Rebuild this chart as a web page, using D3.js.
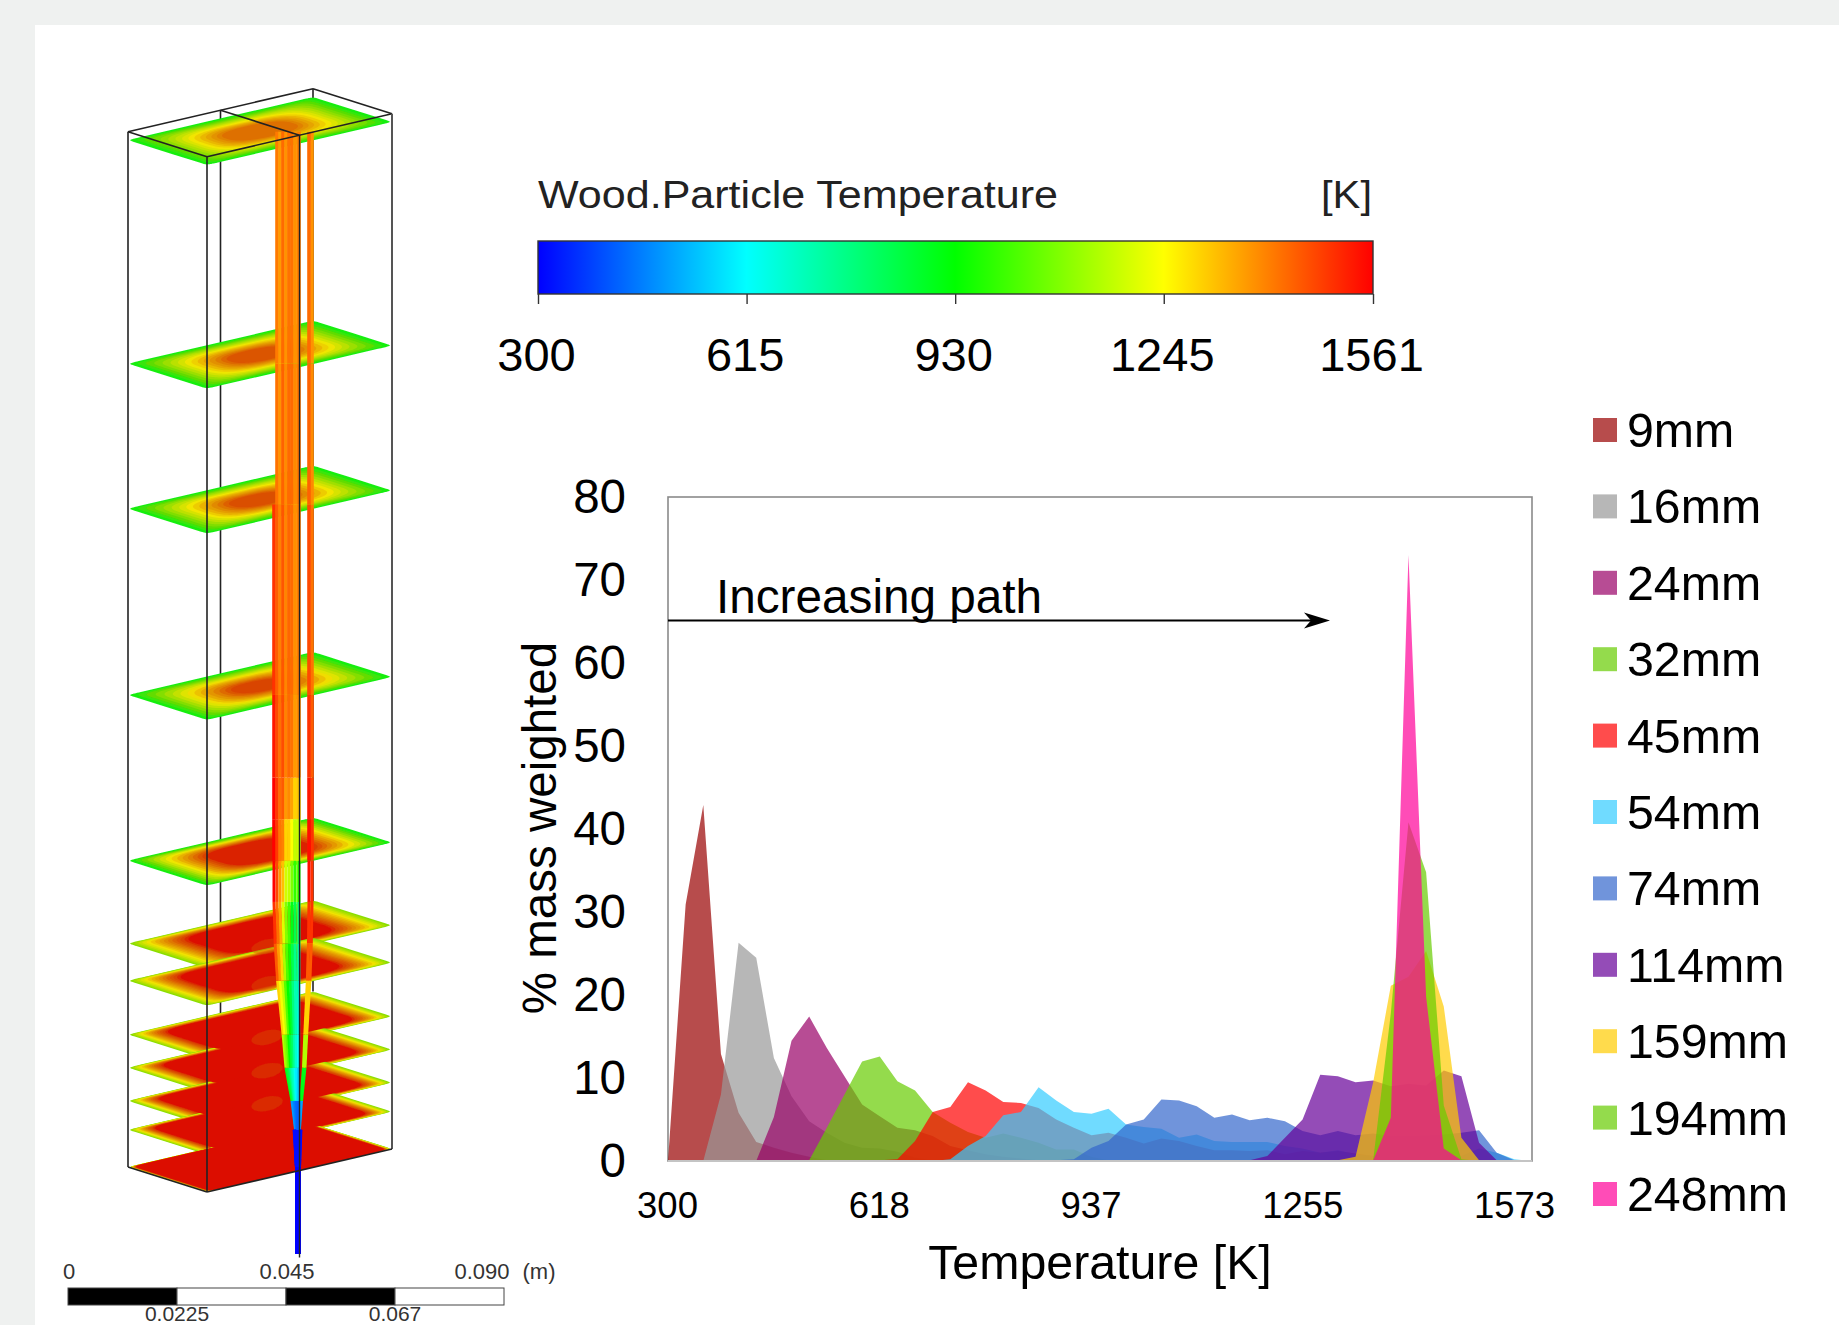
<!DOCTYPE html>
<html>
<head>
<meta charset="utf-8">
<script src="https://cdn.jsdelivr.net/npm/d3@7"></script>
<style>
  html, body { margin: 0; padding: 0; background: #fff; }
  svg { display: block; }
  text { font-family: "Liberation Sans", Arial, sans-serif; fill: #000; }
</style>
</head>
<body>
<div id="chart"></div>
<script>
// histogram bins, one per temperature
const temps = [300, 326, 352, 378, 404, 430, 456, 482, 508, 534, 560, 586, 612, 638, 664, 690, 716, 742, 768, 794, 820, 846, 872, 898, 924,
  949, 975, 1001, 1027, 1053, 1079, 1105, 1131, 1157, 1183, 1209, 1235, 1261, 1287, 1313, 1339, 1365, 1391, 1417, 1443, 1469, 1495, 1521, 1547, 1573];

const s9 = [0, 30.9, 42.9, 12.9, 5.8, 2.3, 1.6, 1.0, 0.5, 0.1, 0, 0, 0, 0, 0, 0, 0, 0, 0, 0, 0, 0, 0, 0, 0,
  0, 0, 0, 0, 0, 0, 0, 0, 0, 0, 0, 0, 0, 0, 0, 0, 0, 0, 0, 0, 0, 0, 0, 0, 0];
const s16 = [0, 0, 0, 8, 26.3, 24.5, 12.4, 7.8, 4.8, 3.4, 2.2, 1.6, 1.5, 1.1, 0.4, 0.1, 0, 0, 0, 0, 0, 0, 0, 0, 0,
  0, 0, 0, 0, 0, 0, 0, 0, 0, 0, 0, 0, 0, 0, 0, 0, 0, 0, 0, 0, 0, 0, 0, 0, 0];
const s24 = [0, 0, 0, 0, 0, 0, 5.3, 14.5, 17.4, 13.6, 10.2, 6.8, 5.4, 4.0, 3.7, 3.0, 1.8, 1.3, 0.8, 0.5, 0.3, 0.1, 0, 0, 0,
  0, 0, 0, 0, 0, 0, 0, 0, 0, 0, 0, 0, 0, 0, 0, 0, 0, 0, 0, 0, 0, 0, 0, 0, 0];
const s32 = [0, 0, 0, 0, 0, 0, 0, 0, 0.1, 4, 8, 12, 12.6, 9.6, 8.5, 5.9, 4.6, 3.5, 2.8, 3.3, 2.8, 2.2, 1.4, 1.4, 0.5,
  0.1, 0, 0, 0, 0, 0, 0, 0, 0, 0, 0, 0, 0, 0, 0, 0, 0, 0, 0, 0, 0, 0, 0, 0, 0];
const s45 = [0, 0, 0, 0, 0, 0, 0, 0, 0, 0, 0, 0, 0.1, 0.2, 2.4, 5.9, 6.5, 9.5, 8.5, 7.1, 7, 6.4, 5, 4, 3.1,
  3.4, 2.8, 2.1, 2.7, 2.4, 1.8, 1.3, 1.3, 1.2, 1.3, 0.8, 1.2, 1.0, 1.2, 0.9, 0.6, 0.3, 0.2, 0.1, 0.1, 0, 0, 0, 0, 0];
const s54 = [0, 0, 0, 0, 0, 0, 0, 0, 0, 0, 0, 0, 0, 0, 0, 0, 0.2, 1.8, 3, 5.5, 5.9, 8.9, 7.3, 5.9, 5.7,
  6.3, 4.4, 4.1, 3.9, 2.8, 3.2, 2.4, 2.3, 2.3, 2.3, 1.8, 1.5, 1.0, 1.3, 0.8, 0.6, 0.5, 0.5, 0.5, 0.5, 0.6, 1.5, 1.0, 0.2, 0];
const s74 = [0, 0, 0, 0, 0, 0, 0, 0, 0, 0, 0, 0, 0, 0, 0, 0, 0, 0, 0, 0, 0, 0, 0.1, 0.2, 1.6,
  2.4, 4.4, 5.0, 7.4, 7.3, 6.6, 5.2, 5.6, 4.9, 5.2, 4.8, 3.6, 3.1, 3.6, 3.1, 3.3, 3, 3, 3.1, 3.2, 3.4, 3.7, 1.0, 0.1, 0];
const s114 = [0, 0, 0, 0, 0, 0, 0, 0, 0, 0, 0, 0, 0, 0, 0, 0, 0, 0, 0, 0, 0, 0, 0, 0, 0,
  0, 0, 0, 0, 0, 0, 0, 0, 0.1, 0.6, 2.8, 5, 10.4, 10.2, 9.5, 9.7, 9, 9.3, 9.1, 10.9, 10.2, 2.2, 0.1, 0, 0];
const s159 = [0, 0, 0, 0, 0, 0, 0, 0, 0, 0, 0, 0, 0, 0, 0, 0, 0, 0, 0, 0, 0, 0, 0, 0, 0,
  0, 0, 0, 0, 0, 0, 0, 0, 0, 0, 0, 0, 0, 0.1, 0.5, 9.5, 21.1, 22.2, 25.3, 18.6, 2.8, 0.1, 0, 0, 0];
const s194 = [0, 0, 0, 0, 0, 0, 0, 0, 0, 0, 0, 0, 0, 0, 0, 0, 0, 0, 0, 0, 0, 0, 0, 0, 0,
  0, 0, 0, 0, 0, 0, 0, 0, 0, 0, 0, 0, 0, 0, 0, 0.1, 17.8, 40.8, 34.8, 6.7, 0.2, 0, 0, 0, 0];
const s248 = [0, 0, 0, 0, 0, 0, 0, 0, 0, 0, 0, 0, 0, 0, 0, 0, 0, 0, 0, 0, 0, 0, 0, 0, 0,
  0, 0, 0, 0, 0, 0, 0, 0, 0, 0, 0, 0, 0, 0, 0, 0.1, 5.2, 73, 19.8, 1.5, 0.1, 0, 0, 0, 0];

const seriesNames = ["9mm", "16mm", "24mm", "32mm", "45mm", "54mm", "74mm", "114mm", "159mm", "194mm", "248mm"];
const seriesValues = [s9, s16, s24, s32, s45, s54, s74, s114, s159, s194, s248];
const seriesColors = ["#990000", "#999999", "#990066", "#66cc00", "#ff0000", "#33ccff", "#3366cc", "#660099", "#ffcc00", "#66cc00", "#ff0099"];

const xTickLabels = ["300", "618", "937", "1255", "1573"];
const yTicks = [0, 10, 20, 30, 40, 50, 60, 70, 80];

const barStops = [300, 615, 930, 1245, 1561];
const barColors = ["#0000ff", "#00ffff", "#00ff00", "#ffff00", "#ff0000"];

// contour plates of the 3D view, bottom wall at 0 plus one per sampled height
const plateHeights = [248, 194, 159, 114, 74, 54, 45, 32, 24, 16, 9, 0];
const plateCoreHeat = [0.74, 0.82, 0.84, 0.88, 0.96, 1, 1, 1, 1, 1, 1, 1];
const plateCoreSize = [0.36, 0.32, 0.3, 0.28, 0.55, 0.72, 0.76, 0.82, 0.84, 0.86, 0.88, 0.97];
const plateStretch = [1, 1, 1, 1, 1.2, 1.5, 1.5, 1.5, 1.5, 1.5, 1.5, 1.5];
const blobHeights = [54, 45, 32, 24, 16];

// particle tracks: offset at the top from the inlet, how hot each runs, where it ends
const trackOffsets = [-24, 14, 11, -21, -18, -15, -12, -9, 0, -6, -3, 1];
const trackHeat = [1, 1, 1, 0.9, 0.8, 0.6, 0.45, 0.35, 0.4, 0.2, 0.1, 0];
const trackTint = [60, -20, 30, 10, -30, 30, -20, 20, -30, 20, -20, 10];
const trackTop = [160, 250, 250, 250, 250, 250, 250, 250, 250, 250, 250, 250];
const trackHeights = [-21, 0, 9, 16, 24, 32, 45, 54, 64, 74, 84, 94, 114, 160, 194, 250];
const trackSpread = [0, 0, 0.1, 0.25, 0.5, 0.62, 0.85, 0.95, 1, 1, 1, 1, 1, 1, 1, 1];
const trackCold = [300, 320, 420, 560, 620, 640, 680, 760, 950, 1150, 1300, 1380, 1400, 1410, 1400, 1400];
const trackHot = [300, 320, 500, 900, 1150, 1300, 1450, 1500, 1520, 1520, 1500, 1470, 1440, 1410, 1400, 1400];

const scaleMinor = ["0.0225", "0.067"];

const W = 1839;
const H = 1325;

const svg = d3.select("#chart").append("svg").attr("width", W).attr("height", H);
svg.append("rect").attr("width", W).attr("height", H).attr("fill", "#eff1f0");
svg.append("rect").attr("x", 35).attr("y", 25).attr("width", W - 35).attr("height", H - 25).attr("fill", "#fff");

const defs = svg.append("defs");
defs.append("filter").attr("id", "soft").append("feGaussianBlur").attr("stdDeviation", 0.6);

// ---------- 3D view ----------
const hY = d3.scaleLinear().domain([0, 248]).range([1167, 140]);
const ramp = d3.scaleLinear()
  .domain([0, 0.12, 0.28, 0.42, 0.55, 0.68, 0.8, 0.9, 1])
  .range(["#14ee10", "#60dc00", "#b4e000", "#f2e600", "#e8ae00", "#e08400", "#dc5a00", "#d84000", "#dc1000"]);

function project(a, b, h) {
  return [128 + 79 * a + 185 * b, hY(h) + 25 * a - 43 * b];
}

// rounded rectangle in plate coordinates, squarer close to the wall
function contour(h, size, stretch) {
  const sizeU = Math.max(0.15, 1 - (1 - size) * stretch);
  const n = 2 + 4 * size * size + 30 * Math.pow(size, 12);
  const pts = d3.range(0, 360, 3).map((deg) => {
    const t = (deg * Math.PI) / 180;
    const c = Math.cos(t);
    const s = Math.sin(t);
    const u = Math.sign(c) * Math.pow(Math.abs(c), 2 / n) * sizeU;
    const v = Math.sign(s) * Math.pow(Math.abs(s), 2 / n) * size;
    return project(0.5 + v / 2, 0.5 + u / 2, h);
  });
  return d3.line().curve(d3.curveLinearClosed)(pts);
}

const backLines = svg.append("g").attr("stroke", "#222").attr("stroke-width", 1.6);
[[0, 0.5], [0, 1]].forEach(([a, b]) => {
  const top = project(a, b, 250);
  const bot = project(a, b, 32);
  backLines.append("line").attr("x1", top[0]).attr("y1", top[1]).attr("x2", bot[0]).attr("y2", bot[1]);
});

const plates = svg.append("g").attr("filter", "url(#soft)");
const bands = d3.range(0, 15);
plateHeights.forEach((h, i) => {
  bands.forEach((j) => {
    const f = j / (bands.length - 1);
    const size = 1 - f * (1 - plateCoreSize[i]);
    const heat = i > 4 ? 0.2 + f * 0.8 : f * plateCoreHeat[i];
    plates.append("path").attr("d", contour(h, size, plateStretch[i])).attr("fill", ramp(heat));
  });
});
// the red cores of the lowest plates run into each other
plateHeights.forEach((h, i) => {
  if (i > 6) {
    plates.append("path").attr("d", contour(h, plateCoreSize[i], plateStretch[i])).attr("fill", ramp(1));
  }
});
blobHeights.forEach((h) => {
  const p = project(0.815, 0.404, h);
  plates.append("ellipse")
    .attr("transform", `translate(${p[0]},${p[1]}) rotate(-13)`)
    .attr("rx", 16).attr("ry", 7)
    .attr("fill", "#d84a00").attr("fill-opacity", 0.45);
});

const barColor = d3.scaleLinear().domain(barStops).range(barColors);
const trackG = svg.append("g").attr("fill", "none").attr("filter", "url(#soft)");
trackOffsets.forEach((off, k) => {
  const pts = trackHeights.map((h, i) => [298 + off * trackSpread[i], hY(h)]);
  d3.pairs(pts).forEach(([p, q], i) => {
    if (trackHeights[i + 1] > trackTop[k]) return;
    const t0 = trackCold[i] + (trackHot[i] - trackCold[i]) * trackHeat[k] + (trackHeights[i] > 60 ? trackTint[k] : 0);
    const width = trackHeights[i] < 9 ? 6 : trackHeights[i] > 70 ? 3.6 : 3;
    trackG.append("line")
      .attr("x1", p[0]).attr("y1", p[1]).attr("x2", q[0]).attr("y2", q[1])
      .attr("stroke", barColor(t0))
      .attr("stroke-width", width);
  });
});

const box = svg.append("g").attr("stroke", "#222").attr("stroke-width", 1.6).attr("fill", "none");
const edge = (p, q) => box.append("line").attr("x1", p[0]).attr("y1", p[1]).attr("x2", q[0]).attr("y2", q[1]);
edge(project(0, 0, 250), project(0, 1, 250));
edge(project(0, 1, 250), project(1, 1, 250));
edge(project(1, 1, 250), project(1, 0, 250));
edge(project(1, 0, 250), project(0, 0, 250));
edge(project(0, 0.5, 250), project(1, 0.5, 250));
edge(project(0, 0, 250), project(0, 0, 0));
edge(project(1, 0, 250), project(1, 0, 0));
edge(project(1, 0.5, 250), project(1, 0.5, -21)).attr("stroke-width", 1.4);
edge(project(1, 1, 250), project(1, 1, 0)).attr("stroke", "#555").attr("stroke-width", 2);
edge(project(0, 0, 0), project(1, 0, 0));
edge(project(1, 0, 0), project(1, 1, 0));

// scale bar
const barX = d3.scaleLinear().domain([0, 0.09]).range([68, 504]);
const bar = svg.append("g");
d3.pairs([0, 0.0225, 0.045, 0.0675, 0.09]).forEach(([a, b], i) => {
  bar.append("rect")
    .attr("x", barX(a)).attr("y", 1288).attr("width", barX(b) - barX(a)).attr("height", 17)
    .attr("fill", i % 2 ? "#fff" : "#000").attr("stroke", "#444").attr("stroke-width", 1);
});
const scaleLabelX = [69, 287, 482];
["0", "0.045", "0.090"].forEach((t, i) => {
  bar.append("text").attr("x", scaleLabelX[i]).attr("y", 1279).attr("text-anchor", "middle")
    .attr("font-size", 22).style("fill", "#333").text(t);
});
bar.append("text").attr("x", 539).attr("y", 1279).attr("text-anchor", "middle").attr("font-size", 22).style("fill", "#333").text("(m)");
[0.0225, 0.0675].forEach((v, i) => {
  bar.append("text").attr("x", barX(v)).attr("y", 1320.5).attr("text-anchor", "middle")
    .attr("font-size", 21).style("fill", "#333").text(scaleMinor[i]);
});

// ---------- colour bar ----------
const cbX = d3.scaleLinear().domain([300, 1561]).range([538, 1373]);
const grad = defs.append("linearGradient").attr("id", "temp-grad");
barStops.forEach((t, i) => {
  grad.append("stop").attr("offset", (t - 300) / (1561 - 300)).attr("stop-color", barColors[i]);
});
svg.append("rect").attr("x", cbX(300)).attr("y", 241).attr("width", cbX(1561) - cbX(300)).attr("height", 53)
  .attr("fill", "url(#temp-grad)").attr("stroke", "#333").attr("stroke-width", 1.4);
const cbAxis = d3.axisBottom(cbX).tickValues(barStops).tickFormat(d3.format("d")).tickSize(10).tickPadding(34);
const cbG = svg.append("g").attr("transform", "translate(0,294)").call(cbAxis);
cbG.select(".domain").remove();
cbG.selectAll("line").attr("stroke", "#333").attr("stroke-width", 1.4);
cbG.selectAll("text").attr("font-size", 47).attr("font-family", "Liberation Sans").attr("dx", -2);
svg.append("text").attr("x", 538).attr("y", 208).attr("font-size", 38).style("fill", "#222")
  .attr("textLength", 520).attr("lengthAdjust", "spacingAndGlyphs").text("Wood.Particle Temperature");
svg.append("text").attr("x", 1321).attr("y", 208).attr("font-size", 38).style("fill", "#222")
  .attr("textLength", 51).attr("lengthAdjust", "spacingAndGlyphs").text("[K]");

// ---------- area chart ----------
const x = d3.scaleLinear().domain([300, 1573]).range([668, 1532]);
const y = d3.scaleLinear().domain([0, 80]).range([1161, 497]);

const area = d3.area()
  .x((d, i) => x(temps[i]))
  .y0(y(0))
  .y1((d) => y(d));

svg.append("rect").attr("x", x(300)).attr("y", y(80)).attr("width", x(1573) - x(300)).attr("height", y(0) - y(80))
  .attr("fill", "none").attr("stroke", "#8a8a8a").attr("stroke-width", 1.6);

svg.append("g").selectAll("path")
  .data(seriesValues)
  .enter()
  .append("path")
  .attr("d", area)
  .attr("fill", (d, i) => seriesColors[i])
  .attr("fill-opacity", 0.7);

svg.append("line").attr("x1", x(300)).attr("x2", x(1573)).attr("y1", y(0)).attr("y2", y(0))
  .attr("stroke", "#c4c4c4").attr("stroke-width", 2);

const yAxis = d3.axisLeft(y).tickValues(yTicks).tickSize(0).tickPadding(42);
const yG = svg.append("g").attr("transform", "translate(668,0)").call(yAxis);
yG.select(".domain").remove();
yG.selectAll("text").attr("font-size", 47.5).attr("font-family", "Liberation Sans");

const xLabelPos = d3.scalePoint().domain(xTickLabels).range([667, 1514]);
const xAxis = d3.axisBottom(xLabelPos).tickSize(0).tickPadding(31);
const xG = svg.append("g").attr("transform", "translate(0,1161)").call(xAxis);
xG.select(".domain").remove();
xG.selectAll("text").attr("font-size", 36.5).attr("font-family", "Liberation Sans");

svg.append("text").attr("x", 1100).attr("y", 1279).attr("text-anchor", "middle").attr("font-size", 48.3).text("Temperature [K]");
svg.append("text")
  .attr("transform", "translate(556,828) rotate(-90)")
  .attr("text-anchor", "middle").attr("font-size", 47.5).text("% mass weighted");

svg.append("text").attr("x", 716).attr("y", 613).attr("font-size", 47.7).text("Increasing path");
svg.append("line").attr("x1", x(300)).attr("x2", 1318).attr("y1", 620.5).attr("y2", 620.5)
  .attr("stroke", "#000").attr("stroke-width", 2.2);
svg.append("path")
  .attr("d", d3.line()([[1330, 620.5], [1304, 612.5], [1311, 620.5], [1304, 628.5]]) + "Z")
  .attr("fill", "#000");

// ---------- legend ----------
const legendY = d3.scalePoint().domain(seriesNames).range([430, 1194]);
const legend = svg.append("g").selectAll("g").data(seriesNames).enter().append("g")
  .attr("transform", (d) => `translate(1593,${legendY(d)})`);
legend.append("rect").attr("y", -12).attr("width", 24).attr("height", 24)
  .attr("fill", (d, i) => seriesColors[i]).attr("fill-opacity", 0.7);
legend.append("text").attr("x", 34).attr("y", 17).attr("font-size", 48.3).text((d) => d);
</script>
</body>
</html>
